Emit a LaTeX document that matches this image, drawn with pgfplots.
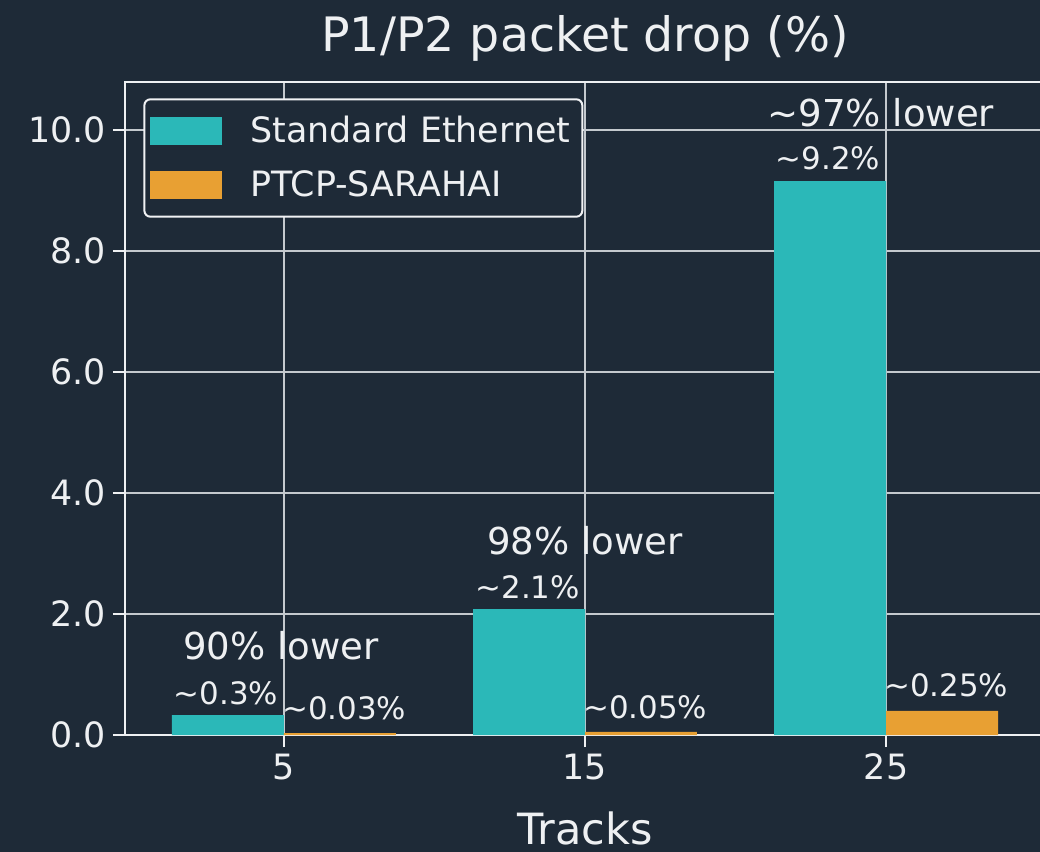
\documentclass[border=0pt]{standalone}
\usepackage{fontspec}
\setmainfont{DejaVu Sans}
\usepackage{pgfplots}
\pgfplotsset{compat=1.18}
\definecolor{bg}{HTML}{1E2A37}
\definecolor{cy}{HTML}{2BB8B8}
\definecolor{og}{HTML}{E8A033}
\definecolor{fg}{HTML}{EEF0F2}
\definecolor{gridc}{HTML}{C4C9CE}
\begin{document}
\begin{tikzpicture}
\fill[bg] (-62.5bp,-58.5bp) rectangle (457.5bp,367.5bp);
\path[use as bounding box] (-62.5bp,-58.5bp) rectangle (457.5bp,367.5bp);
\begin{axis}[
  scale only axis, width=460bp, height=326.5bp,
  xmin=-0.28, xmax=30.28, ymin=0, ymax=10.79,
  xtick={5,15,25}, ytick={0,2,4,6,8,10},
  /pgf/number format/assume math mode=true,
  yticklabel style={/pgf/number format/fixed, /pgf/number format/fixed zerofill, /pgf/number format/precision=1},
  xticklabel style={/pgf/number format/fixed},
  tick label style={font=\fontsize{17.5}{20}\selectfont, text=fg},
  tick pos=left, tick align=outside, major tick length=6bp,
  tick style={fg, line width=1.2bp},
  axis line style={fg, line width=1.4bp},
  grid=major, major grid style={gridc, line width=1.2bp},
  title={P1/P2 packet drop (\%)},
  title style={font=\fontsize{23.8}{26}\selectfont, text=fg, at={(axis description cs:0.5,1.029)}, anchor=base},
  xlabel={Tracks},
  xlabel style={font=\fontsize{21.6}{24}\selectfont, text=fg, at={(axis description cs:0.5,-0.168)}, anchor=base},
  legend image code/.code={\fill[#1, sharp corners] (0bp,-7bp) rectangle (36bp,7bp);},
  legend style={at={(0.02,0.975)}, anchor=north west, fill=bg, draw=fg!85, line width=1bp, rounded corners=3bp,
    text=fg, font=\fontsize{17.5}{20}\selectfont, inner xsep=3bp, inner ysep=5.5bp, row sep=6.5bp,
    nodes={inner sep=3bp},
    /tikz/every odd column/.append style={column sep=11bp}},
  legend cell align=left,
  clip=false,
]
\addplot[ybar, bar width=3.72, bar shift=-1.86, fill=cy, draw=none] coordinates {(5,0.33) (15,2.08) (25,9.15)};
\addlegendentry{Standard Ethernet}
\addplot[ybar, bar width=3.72, bar shift=1.86, fill=og, draw=none] coordinates {(5,0.03) (15,0.05) (25,0.4)};
\addlegendentry{PTCP-SARAHAI}
\node[font=\fontsize{18.6}{20}\selectfont, text=fg, anchor=base] at (axis cs:4.9,1.24) {90\% lower};
\node[font=\fontsize{18.6}{20}\selectfont, text=fg, anchor=base] at (axis cs:15.0,2.98) {98\% lower};
\node[font=\fontsize{18.6}{20}\selectfont, text=fg, anchor=base] at (axis cs:24.83,10.05) {\textasciitilde97\% lower};
\node[font=\fontsize{15.5}{18}\selectfont, text=fg, anchor=base] at (axis cs:3.07,0.51) {\textasciitilde0.3\%};
\node[font=\fontsize{15.5}{18}\selectfont, text=fg, anchor=base] at (axis cs:7.0,0.25) {\textasciitilde0.03\%};
\node[font=\fontsize{15.5}{18}\selectfont, text=fg, anchor=base] at (axis cs:13.1,2.26) {\textasciitilde2.1\%};
\node[font=\fontsize{15.5}{18}\selectfont, text=fg, anchor=base] at (axis cs:17.0,0.28) {\textasciitilde0.05\%};
\node[font=\fontsize{15.5}{18}\selectfont, text=fg, anchor=base] at (axis cs:23.07,9.34) {\textasciitilde9.2\%};
\node[font=\fontsize{15.5}{18}\selectfont, text=fg, anchor=base] at (axis cs:27.0,0.64) {\textasciitilde0.25\%};
\end{axis}
\end{tikzpicture}
\end{document}
